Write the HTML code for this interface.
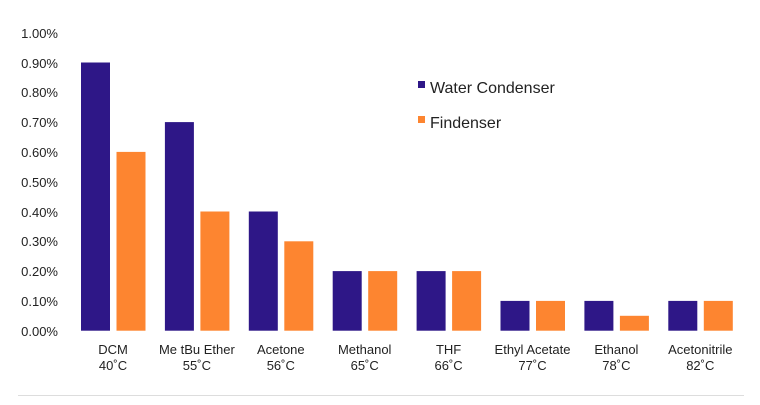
<!DOCTYPE html>
<html><head><style>
body{margin:0;background:#fff;}
svg text{font-family:"Liberation Sans",Arial,sans-serif;fill:#222;}
</style></head><body>
<svg width="760" height="400" xmlns="http://www.w3.org/2000/svg">
<g font-size="13" text-anchor="end">
<text x="58" y="38">1.00%</text>
<text x="58" y="68">0.90%</text>
<text x="58" y="97">0.80%</text>
<text x="58" y="127">0.70%</text>
<text x="58" y="157">0.60%</text>
<text x="58" y="187">0.50%</text>
<text x="58" y="217">0.40%</text>
<text x="58" y="246">0.30%</text>
<text x="58" y="276">0.20%</text>
<text x="58" y="306">0.10%</text>
<text x="58" y="336">0.00%</text>
</g>
<g id="bars"></g>
<g font-size="13" text-anchor="middle" id="labels"></g>
<rect x="418" y="81" width="7" height="7" fill="#2e1787"/>
<text x="430" y="93" font-size="16">Water Condenser</text>
<rect x="418" y="116" width="7" height="7" fill="#fd8530"/>
<text x="430" y="128" font-size="16">Findenser</text>
<line x1="18" y1="395.5" x2="744" y2="395.5" stroke="#ddd" stroke-width="1"/>
<script>
var d=[["DCM","40˚C",.9,.6],["Me tBu Ether","55˚C",.7,.4],["Acetone","56˚C",.4,.3],["Methanol","65˚C",.2,.2],["THF","66˚C",.2,.2],["Ethyl Acetate","77˚C",.1,.1],["Ethanol","78˚C",.1,.05],["Acetonitrile","82˚C",.1,.1]];
var b=document.getElementById("bars"),l=document.getElementById("labels"),ns="http://www.w3.org/2000/svg";
var base=330.7,k=298;
d.forEach(function(r,i){var x=81+i*83.9;
[[r[2],x,"#2e1787"],[r[3],x+35.5,"#fd8530"]].forEach(function(q){var e=document.createElementNS(ns,"rect");var h=q[0]*k;e.setAttribute("x",q[1]);e.setAttribute("y",base-h);e.setAttribute("width",29);e.setAttribute("height",h);e.setAttribute("fill",q[2]);b.appendChild(e);});
[[r[0],354],[r[1],370]].forEach(function(q){var t=document.createElementNS(ns,"text");t.setAttribute("x",x+32);t.setAttribute("y",q[1]);t.textContent=q[0];l.appendChild(t);});
});
</script>
</svg>
</body></html>
